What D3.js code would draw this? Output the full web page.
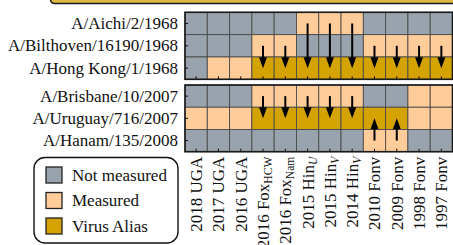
<!DOCTYPE html>
<html><head><meta charset="utf-8">
<script src="https://cdn.jsdelivr.net/npm/d3@7"></script>
<style>
html,body{margin:0;padding:0;background:#fff;}
svg{display:block;}
</style></head>
<body><svg id="chart" width="453" height="245"></svg>
<script>
// Columns (x categories): base text + optional subscript (italic flag)
const columns = [
  {id:"c0", base:"2018 UGA"},
  {id:"c1", base:"2017 UGA"},
  {id:"c2", base:"2016 UGA"},
  {id:"c3", base:"2016 Fox", sub:"HCW", it:false},
  {id:"c4", base:"2016 Fox", sub:"Nam", it:false},
  {id:"c5", base:"2015 Hin", sub:"U", it:true},
  {id:"c6", base:"2015 Hin", sub:"V", it:true},
  {id:"c7", base:"2014 Hin", sub:"V", it:true},
  {id:"c8", base:"2010 Fonv"},
  {id:"c9", base:"2009 Fonv"},
  {id:"c10", base:"1998 Fonv"},
  {id:"c11", base:"1997 Fonv"}
];
// Row groups
const rows1968 = ["A/Aichi/2/1968", "A/Bilthoven/16190/1968", "A/Hong Kong/1/1968"];
const rows2007 = ["A/Brisbane/10/2007", "A/Uruguay/716/2007", "A/Hanam/135/2008"];
// Status codes: 0 = Not measured, 1 = Measured, 2 = Virus Alias
const status1968 = [
  [0,0,0,0,0,1,1,1,0,0,0,0],
  [0,0,0,1,1,0,0,0,1,1,1,1],
  [0,1,1,2,2,2,2,2,2,2,2,2]
];
const status2007 = [
  [0,0,0,1,1,1,1,1,0,0,1,1],
  [1,1,1,2,2,2,2,2,2,2,1,1],
  [0,0,0,0,0,0,0,0,1,1,0,0]
];
// Arrows: column index, from row index, to row index
const arrows1968 = [
  [3,1,2],[4,1,2],[5,0,2],[6,0,2],[7,0,2],[8,1,2],[9,1,2],[10,1,2],[11,1,2]
];
const arrows2007 = [
  [3,0,1],[4,0,1],[5,0,1],[6,0,1],[7,0,1],[8,2,1],[9,2,1]
];
const legendLabels = ["Not measured", "Measured", "Virus Alias"];
const statusColors = ["#98a3ad", "#ffcc9a", "#d4a300"];

const svg = d3.select("#chart");
const FS = 17;
const FONT = '"Liberation Serif"';

// top cropped box
svg.append("rect").attr("x",50.5).attr("y",-20).attr("width",420).attr("height",23.5)
  .attr("rx",4).attr("fill","#e0b840").attr("stroke","#1a1a1a").attr("stroke-width",1.6);

const x = d3.scaleBand().domain(columns.map(c=>c.id)).range([185, 452.5]).padding(0);
const color = d3.scaleOrdinal().domain([0,1,2]).range(statusColors);

function drawGroup(rows, status, arrows, y0, y1, showX) {
  const y = d3.scaleBand().domain(rows).range([y0, y1]).padding(0);
  const g = svg.append("g");
  const cells = [];
  status.forEach((r,i)=>r.forEach((v,j)=>cells.push({row:rows[i], col:columns[j].id, v})));
  g.selectAll("rect.cell").data(cells).join("rect").attr("class","cell")
    .attr("x",d=>x(d.col)).attr("y",d=>y(d.row))
    .attr("width",x.bandwidth()).attr("height",y.bandwidth())
    .attr("fill",d=>color(d.v)).attr("stroke","#4a4a4a").attr("stroke-width",0.9);
  // outer frame
  g.append("rect").attr("x",x.range()[0]).attr("y",y0)
    .attr("width",x.range()[1]-x.range()[0]).attr("height",y1-y0)
    .attr("fill","none").attr("stroke","#1a1a1a").attr("stroke-width",1.6);
  // left axis
  const ay = g.append("g").attr("transform",`translate(${x.range()[0]},0)`)
    .call(d3.axisLeft(y).tickSizeInner(-3).tickSizeOuter(0).tickPadding(7));
  ay.select(".domain").remove();
  ay.selectAll("line").attr("stroke","#111").attr("stroke-width",1);
  ay.selectAll("text").style("font-family",FONT).style("font-size",FS+"px")
    .attr("fill","#111").attr("x",-7);
  // bottom axis ticks
  const ax = g.append("g").attr("transform",`translate(0,${y1})`)
    .call(d3.axisBottom(x).tickSizeInner(-3).tickSizeOuter(0).tickFormat(""));
  ax.select(".domain").remove();
  ax.selectAll("line").attr("stroke","#111").attr("stroke-width",1);
  if (showX) {
    const lab = g.append("g");
    columns.forEach(c=>{
      const t = lab.append("text")
        .attr("transform",`translate(${x(c.id)+x.bandwidth()/2+6},${y1+5}) rotate(-90)`)
        .attr("text-anchor","end").style("font-family",FONT).style("font-size",FS+"px")
        .attr("fill","#111");
      t.append("tspan").text(c.base);
      if (c.sub) {
        t.append("tspan").style("font-size",(FS*0.68)+"px").attr("dy",3)
          .style("font-style",c.it?"italic":"normal").text(c.sub);
      }
    });
  }
  // arrows
  const ag = g.append("g");
  arrows.forEach(([ci,fr,to])=>{
    const cx = x(columns[ci].id)+x.bandwidth()/2;
    const ya = y(rows[fr])+y.bandwidth()/2;
    const yb = y(rows[to])+y.bandwidth()/2;
    const dir = yb>ya?1:-1;
    const hl = 11, hw = 4;
    ag.append("line").attr("x1",cx).attr("x2",cx).attr("y1",ya).attr("y2",yb-dir*hl+dir*1)
      .attr("stroke","#000").attr("stroke-width",2);
    ag.append("path").attr("d",`M${cx},${yb}L${cx-hw},${yb-dir*hl}L${cx+hw},${yb-dir*hl}Z`)
      .attr("fill","#000");
  });
}

drawGroup(rows1968, status1968, arrows1968, 12.3, 79.3, false);
drawGroup(rows2007, status2007, arrows2007, 85, 151.7, true);

// legend
const lg = svg.append("g");
lg.append("rect").attr("x",34).attr("y",157.5).attr("width",144).attr("height",85.5)
  .attr("rx",11).attr("fill","#fff").attr("stroke","#111").attr("stroke-width",1.4);
legendLabels.forEach((l,i)=>{
  const cy = 175 + i*25.5;
  lg.append("rect").attr("x",46).attr("y",cy-8).attr("width",16).attr("height",16)
    .attr("fill",statusColors[i]).attr("stroke","#222").attr("stroke-width",1.3);
  lg.append("text").attr("x",72).attr("y",cy).attr("dy","0.35em")
    .style("font-family",FONT).style("font-size",FS+"px").attr("fill","#111").text(l);
});
</script></body></html>
